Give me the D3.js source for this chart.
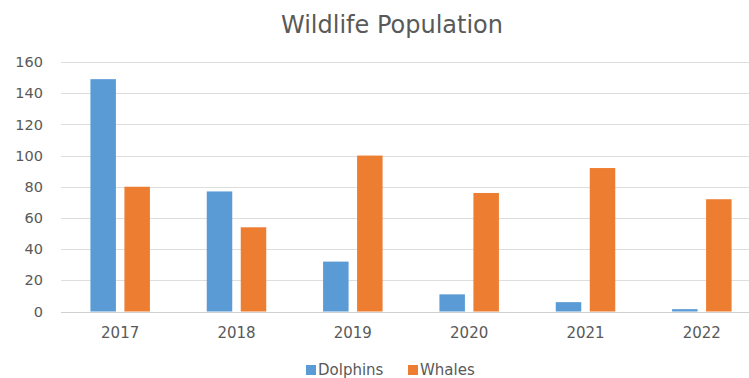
<!DOCTYPE html>
<html>
<head>
<meta charset="utf-8">
<script src="https://cdn.jsdelivr.net/npm/d3@7"></script>
<style>
  html, body { margin: 0; padding: 0; background: #fff; overflow: hidden; }
  svg { display: block; font-family: "DejaVu Sans", "Open Sans", sans-serif; }
</style>
</head>
<body>
<svg id="chart" width="749" height="378"></svg>
<script>
// Yearly counts per species
const years = ["2017", "2018", "2019", "2020", "2021", "2022"];
const seriesNames = ["Dolphins", "Whales"];
const dolphins = [149, 77, 32, 11, 6, 1.5];
const whales = [80, 54, 100, 76, 92, 72];
const yTicks = [0, 20, 40, 60, 80, 100, 120, 140, 160];
const colors = ["#5B9BD5", "#ED7D31"];

const rows = years.map((y, i) => ({ year: y, values: [dolphins[i], whales[i]] }));

const svg = d3.select("#chart");
// Plot area runs slightly past the right edge of the canvas
const plot = { left: 62, right: 760, top: 62, bottom: 311.5 };
const textColor = "#595959";

const x0 = d3.scaleBand().domain(years).range([plot.left, plot.right]).padding(0);
const x1 = d3.scaleBand().domain(seriesNames).range([0, x0.bandwidth()])
  .paddingInner(0.25).paddingOuter(0.836);
const y = d3.scaleLinear().domain([0, 160]).range([plot.bottom, plot.top]);

// Horizontal gridlines
svg.append("g")
  .selectAll("line")
  .data(yTicks)
  .join("line")
  .attr("x1", plot.left - 1).attr("x2", plot.right)
  .attr("y1", d => Math.round(y(d)) + 0.5).attr("y2", d => Math.round(y(d)) + 0.5)
  .attr("stroke", d => d === 0 ? "#d0d0d0" : "#dedede")
  .attr("stroke-width", 1);

// Y axis labels
const yAxis = d3.axisLeft(y).tickValues(yTicks).tickSize(0).tickPadding(0);
svg.append("g")
  .attr("transform", `translate(43,0)`)
  .call(yAxis)
  .call(g => g.select(".domain").remove())
  .call(g => g.selectAll("text")
    .attr("fill", textColor)
    .style("font-size", "14.5px")
    .style("font-family", "'DejaVu Sans', sans-serif"));

// Bars
svg.append("g")
  .selectAll("g")
  .data(rows)
  .join("g")
  .attr("transform", d => `translate(${x0(d.year)},0)`)
  .selectAll("rect")
  .data(d => d.values.map((v, i) => ({ name: seriesNames[i], value: v, i })))
  .join("rect")
  .attr("x", d => x1(d.name))
  .attr("width", x1.bandwidth())
  .attr("y", d => y(d.value))
  .attr("height", d => y(0) - y(d.value))
  .attr("fill", d => colors[d.i]);

// X axis labels
const xAxis = d3.axisBottom(x0).tickSize(0).tickPadding(0);
svg.append("g")
  .attr("transform", `translate(0,327)`)
  .call(xAxis)
  .call(g => g.select(".domain").remove())
  .call(g => g.selectAll("text")
    .attr("fill", textColor)
    .style("font-size", "15px")
    .style("font-family", "'DejaVu Sans', sans-serif"));

// Title
svg.append("text")
  .attr("x", 392).attr("y", 33)
  .attr("text-anchor", "middle")
  .attr("fill", textColor)
  .style("font-size", "24px")
  .text("Wildlife Population");

// Legend
const legendX = [306, 408];
const legend = svg.append("g").selectAll("g")
  .data(seriesNames)
  .join("g")
  .attr("transform", (d, i) => `translate(${legendX[i]},365)`);
legend.append("rect")
  .attr("width", 10).attr("height", 10)
  .attr("fill", (d, i) => colors[i]);
legend.append("text")
  .attr("x", 12).attr("y", 10)
  .attr("fill", textColor)
  .style("font-size", "15px")
  .text(d => d);
</script>
</body>
</html>
